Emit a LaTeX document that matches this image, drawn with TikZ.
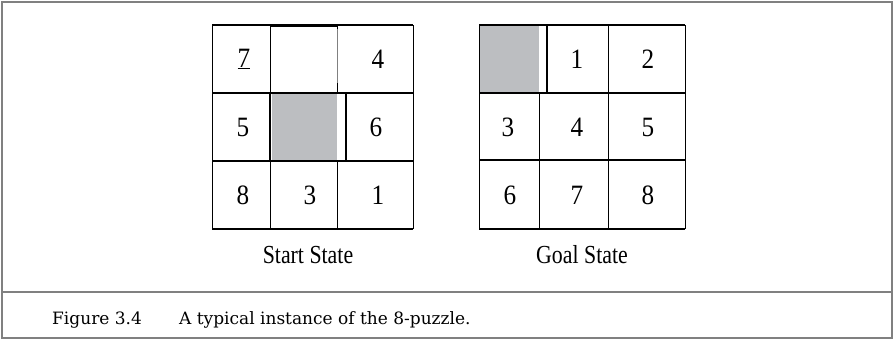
\documentclass[tikz,border=0pt]{standalone}
\usepackage{fontspec}
\setmainfont{Liberation Serif}[FakeStretch=0.84]
\newfontfamily\digitfont{Liberation Serif}[FakeStretch=0.9]
\newfontfamily\capfont{DejaVu Serif}
\usepackage{tikz}
\usetikzlibrary{positioning}
\definecolor{blankgray}{RGB}{188,190,193}
\definecolor{framegray}{RGB}{128,128,128}

\begin{document}
\begin{tikzpicture}[x=1pt,y=-1pt,
    digit/.style={inner sep=0pt, font=\digitfont\fontsize{28}{30}\selectfont},
    statelabel/.style={inner sep=0pt, font=\fontsize{26}{28}\selectfont},
    caption/.style={inner sep=0pt, anchor=west, font=\capfont\fontsize{17}{19}\selectfont},
    thin grid/.style={line width=1pt},
    thick grid/.style={line width=2pt}]
  \useasboundingbox (0,0) rectangle (894,340);
  % outer frame and caption rule
  \draw[framegray, line width=1.3pt] (2,2) rectangle (892,338);
  \draw[framegray, line width=1.3pt] (2,292) -- (892,292);

  % start state
  \fill[blankgray] (272,93) rectangle (337,161);
  \foreach \y in {25,93,161,229}
    \draw[thick grid] (212,\y) -- (413,\y);
  \draw[line width=3pt] (270,25) -- (337,25);
  \draw[thin grid] (212,25) -- (212,229);
  \draw[thin grid] (413,25) -- (413,229);
  \draw[thin grid] (270,25) -- (270,229);
  \draw[thin grid] (337,25) -- (337,93);
  \draw[gray, line width=1.5pt] (337.5,29) -- (337.5,83);
  \draw[thin grid] (337,161) -- (337,229);
  \draw[thick grid] (270,93) -- (270,161);
  \draw[thick grid] (346,93) -- (346,161);
  \foreach \t/\x/\y [count=\i] in {\underline{7}/244/59, 4/378/59, 5/243/127, 6/376/127,
      8/243/195, 3/310/195, 1/378/195}
    \node[digit] (s\i) at (\x,\y) {\t};
  \node[statelabel] (startlbl) at (308,255) {Start State};

  % goal state
  \fill[blankgray] (479,25) rectangle (539,93);
  \foreach \y in {25,93,160,229}
    \draw[thick grid] (479,\y) -- (685,\y);
  \draw[thin grid] (479,25) -- (479,229);
  \draw[thin grid] (685,25) -- (685,229);
  \draw[thin grid] (539,93) -- (539,229);
  \draw[thin grid] (608,25) -- (608,229);
  \draw[thick grid] (547,25) -- (547,93);
  \foreach \t/\x/\y [count=\i] in {1/577/59, 2/648/59, 3/508/127, 4/577/127,
      5/648/127, 6/510/195, 7/577/195, 8/648/195}
    \node[digit] (g\i) at (\x,\y) {\t};
  \node[statelabel] (goallbl) at (582,255) {Goal State};

  % caption
  \node[caption] (fignum) at (52,320) {Figure 3.4};
  \node[caption] (figtext) at (179,320) {A typical instance of the 8-puzzle.};
\end{tikzpicture}
\end{document}
